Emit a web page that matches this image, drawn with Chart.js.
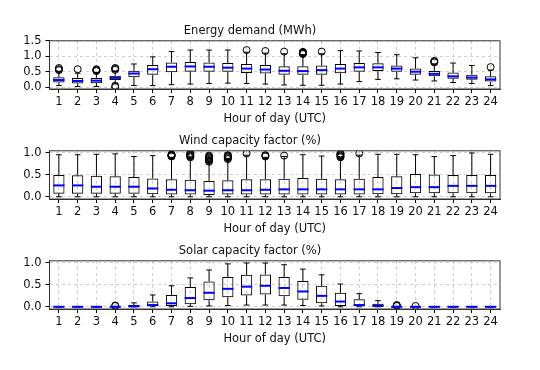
<!DOCTYPE html>
<html>
<head>
<meta charset="utf-8">
<script src="https://cdn.jsdelivr.net/npm/chart.js@4.4.1/dist/chart.umd.min.js"></script>
<style>
    html, body { margin: 0; padding: 0; background: #fff; }
    #wrap { position: relative; width: 540px; height: 370px; overflow: hidden; }
    canvas { position: absolute; left: 0; }
</style>
</head>
<body>
<div id="wrap">
    <canvas id="energy" width="540" height="126" style="top:0px"></canvas>
    <canvas id="wind" width="540" height="126" style="top:110px"></canvas>
    <canvas id="solar" width="540" height="126" style="top:220px"></canvas>
</div>
<script>
// ---- data ----
const hours = ["1","2","3","4","5","6","7","8","9","10","11","12","13","14","15","16","17","18","19","20","21","22","23","24"];
const yTicksEnergy = [0, 0.5, 1.0, 1.5];
const yTicksCf = [0, 0.5, 1.0];

// Energy demand (MWh)
const energyLow    = [0.05,0.02,0.02,0.13,0.05,0.05,0.08,0.10,0.12,0.13,0.12,0.10,0.07,0.06,0.06,0.10,0.18,0.25,0.27,0.23,0.20,0.15,0.12,0.05];
const energyQ1     = [0.15,0.12,0.13,0.23,0.32,0.40,0.48,0.50,0.50,0.50,0.46,0.44,0.40,0.40,0.40,0.45,0.50,0.52,0.50,0.40,0.35,0.27,0.24,0.18];
const energyMedian = [0.23,0.20,0.21,0.30,0.44,0.58,0.66,0.67,0.66,0.63,0.60,0.57,0.53,0.52,0.55,0.60,0.64,0.64,0.60,0.50,0.43,0.35,0.31,0.25];
const energyQ3     = [0.32,0.30,0.30,0.37,0.53,0.72,0.80,0.81,0.80,0.78,0.75,0.72,0.68,0.68,0.70,0.75,0.78,0.77,0.70,0.60,0.52,0.47,0.40,0.35];
const energyHigh   = [0.50,0.45,0.47,0.52,0.75,0.98,1.15,1.20,1.20,1.20,1.13,1.10,1.08,1.05,1.08,1.18,1.17,1.12,1.05,0.95,0.75,0.78,0.70,0.55];
const energyFliers = [[0.55,0.58,0.62],[0.58],[0.52,0.54,0.56,0.58],[0.0,0.04,0.56,0.60,0.62],[],[],[],[],[],[],[1.20],[1.17],[1.15],[1.07,1.09,1.11,1.13,1.14],[1.15],[],[],[],[],[],[0.80,0.83,0.85],[],[],[0.65]];

// Wind capacity factor (%)
const windLow    = [0.0,0.0,0.0,0.0,0.0,0.0,0.0,0.0,0.0,0.0,0.0,0.0,0.0,0.0,0.0,0.0,0.0,0.0,0.0,0.0,0.0,0.0,0.0,0.0];
const windQ1     = [0.07,0.07,0.07,0.07,0.07,0.06,0.05,0.05,0.04,0.05,0.05,0.05,0.05,0.05,0.05,0.05,0.05,0.06,0.06,0.08,0.08,0.08,0.08,0.08];
const windMedian = [0.26,0.26,0.23,0.23,0.23,0.19,0.16,0.15,0.14,0.15,0.15,0.16,0.17,0.17,0.17,0.17,0.17,0.17,0.20,0.22,0.22,0.25,0.25,0.25];
const windQ3     = [0.50,0.49,0.48,0.47,0.45,0.42,0.40,0.39,0.36,0.38,0.40,0.40,0.41,0.43,0.41,0.40,0.41,0.45,0.47,0.52,0.51,0.50,0.50,0.50];
const windHigh   = [0.96,0.96,0.97,0.98,0.92,0.94,0.90,0.88,0.79,0.85,0.95,0.90,0.92,0.96,0.93,0.89,0.95,0.97,0.97,0.96,0.92,0.94,1.0,0.97];
const windFliers = [[],[],[],[],[],[],[0.92,0.93,0.94,0.95,0.96,0.97],[0.90,0.92,0.94,0.96,0.98,1.0],[0.80,0.82,0.84,0.86,0.88,0.90,0.92,0.94],[0.86,0.88,0.90,0.92,0.94,0.95],[0.99],[0.92,0.94,0.95],[0.94],[],[],[0.90,0.92,0.94,0.96,0.98,0.99],[0.99],[],[],[],[],[],[],[]];

// Solar capacity factor (%)
const solarLow    = [0,0,0,0,0,0,0,0.01,0.02,0.03,0.04,0.04,0.04,0.03,0.02,0,0,0,0,0,0,0,0,0];
const solarQ1     = [0,0,0,0,0,0.01,0.02,0.06,0.15,0.22,0.26,0.28,0.24,0.16,0.08,0.02,0,0,0,0,0,0,0,0];
const solarMedian = [0,0,0,0,0.01,0.04,0.08,0.20,0.32,0.41,0.46,0.48,0.43,0.35,0.25,0.12,0.04,0.02,0,0,0,0,0,0];
const solarQ3     = [0,0,0,0.01,0.04,0.12,0.27,0.45,0.58,0.68,0.73,0.74,0.68,0.59,0.48,0.32,0.17,0.07,0.01,0,0,0,0,0];
const solarHigh   = [0,0,0,0.01,0.09,0.27,0.48,0.66,0.84,0.98,1.0,1.0,0.96,0.86,0.73,0.52,0.30,0.14,0.01,0,0,0,0,0];
const solarFliers = [[],[],[],[0.02,0.03],[],[],[],[],[],[],[],[],[],[],[],[],[],[],[0.02,0.03,0.04],[0.02],[],[],[],[]];

// ---- box plot drawing: whiskers, caps, medians and the axes frame ----
const boxWhiskerPlugin = {
    id: "boxWhisker",
    afterDatasetsDraw(chart, args, opts) {
        const { ctx, chartArea } = chart;
        const yScale = chart.scales.y;
        const meta = chart.getDatasetMeta(0);
        const st = opts.stats;
        ctx.save();
        meta.data.forEach((bar, i) => {
            const cx = bar.x;
            const half = bar.width / 2;
            const cap = half / 2;
            const pLow = yScale.getPixelForValue(st.low[i]);
            const pQ1 = yScale.getPixelForValue(st.q1[i]);
            const pQ3 = yScale.getPixelForValue(st.q3[i]);
            const pHigh = yScale.getPixelForValue(st.high[i]);
            const pMed = yScale.getPixelForValue(st.median[i]);

            ctx.strokeStyle = "#000";
            ctx.lineWidth = 1;
            ctx.beginPath();
            ctx.moveTo(cx, pQ1); ctx.lineTo(cx, pLow);
            ctx.moveTo(cx, pQ3); ctx.lineTo(cx, pHigh);
            ctx.moveTo(cx - cap, pLow); ctx.lineTo(cx + cap, pLow);
            ctx.moveTo(cx - cap, pHigh); ctx.lineTo(cx + cap, pHigh);
            ctx.stroke();

            ctx.strokeStyle = "#0000ff";
            ctx.lineWidth = 2;
            ctx.beginPath();
            ctx.moveTo(cx - half, pMed); ctx.lineTo(cx + half, pMed);
            ctx.stroke();
        });
        // top/right spines like matplotlib
        ctx.strokeStyle = "#333";
        ctx.lineWidth = 1;
        ctx.strokeRect(chartArea.left, chartArea.top, chartArea.right - chartArea.left, chartArea.bottom - chartArea.top);
        ctx.restore();
    }
};

const FONT = { family: "'DejaVu Sans', sans-serif", size: 11.5 };

function makeBoxChart(canvasId, title, stats, yMin, yMax, yTicks) {
    const ctx = document.getElementById(canvasId).getContext("2d");
    const flierPoints = [];
    stats.fliers.forEach((list, i) => {
        list.forEach(v => flierPoints.push({ x: hours[i], y: v }));
    });

    return new Chart(ctx, {
        type: "bar",
        data: {
            labels: hours,
            datasets: [
                {
                    type: "bar",
                    data: hours.map((h, i) => [stats.q1[i], stats.q3[i]]),
                    backgroundColor: "rgba(0,0,0,0)",
                    borderColor: "#000",
                    borderWidth: 1,
                    borderSkipped: false,
                    barPercentage: 0.6,
                    categoryPercentage: 1.0,
                    grouped: false,
                },
                {
                    type: "line",
                    data: flierPoints,
                    showLine: false,
                    pointStyle: "circle",
                    pointRadius: 3.5,
                    pointBorderWidth: 1,
                    pointBorderColor: "#000",
                    pointBackgroundColor: "rgba(0,0,0,0)",
                },
            ],
        },
        options: {
            responsive: false,
            animation: false,
            events: [],
            layout: { padding: { top: 24, right: 40, bottom: 0, left: 0 } },
            scales: {
                x: {
                    type: "category",
                    offset: true,
                    grid: {
                        offset: false,
                        color: "#cfcfcf",
                        tickColor: "#000",
                        tickLength: 4,
                        tickBorderDash: [],
                    },
                    border: { color: "#333", dash: [3, 3] },
                    ticks: { color: "#111", font: FONT, padding: 2, autoSkip: false, maxRotation: 0 },
                    title: { display: true, text: "Hour of day (UTC)", color: "#111", font: FONT, padding: 0 },
                    afterFit: (scale) => { scale.height = 37; },
                },
                y: {
                    min: yMin,
                    max: yMax,
                    afterBuildTicks: (scale) => { scale.ticks = yTicks.map(v => ({ value: v })); },
                    grid: {
                        color: "#cfcfcf",
                        tickColor: "#000",
                        tickLength: 4,
                        tickBorderDash: [],
                    },
                    border: { color: "#333", dash: [3, 3] },
                    ticks: {
                        color: "#111",
                        font: FONT,
                        padding: 4,
                        autoSkip: false,
                        callback: (v) => Number(v).toFixed(1),
                    },
                    afterFit: (scale) => { scale.width = 49.5; },
                },
            },
            plugins: {
                legend: { display: false },
                tooltip: { enabled: false },
                title: {
                    display: true,
                    text: title,
                    color: "#111",
                    font: { family: FONT.family, size: 11.5, weight: "normal" },
                    padding: { top: 0, bottom: 3 },
                },
                boxWhisker: { stats: stats },
            },
        },
        plugins: [boxWhiskerPlugin],
    });
}

makeBoxChart("energy", "Energy demand (MWh)",
    { low: energyLow, q1: energyQ1, median: energyMedian, q3: energyQ3, high: energyHigh, fliers: energyFliers },
    -0.06, 1.5, yTicksEnergy);
makeBoxChart("wind", "Wind capacity factor (%)",
    { low: windLow, q1: windQ1, median: windMedian, q3: windQ3, high: windHigh, fliers: windFliers },
    -0.05, 1.05, yTicksCf);
makeBoxChart("solar", "Solar capacity factor (%)",
    { low: solarLow, q1: solarQ1, median: solarMedian, q3: solarQ3, high: solarHigh, fliers: solarFliers },
    -0.05, 1.05, yTicksCf);
</script>
</body>
</html>
